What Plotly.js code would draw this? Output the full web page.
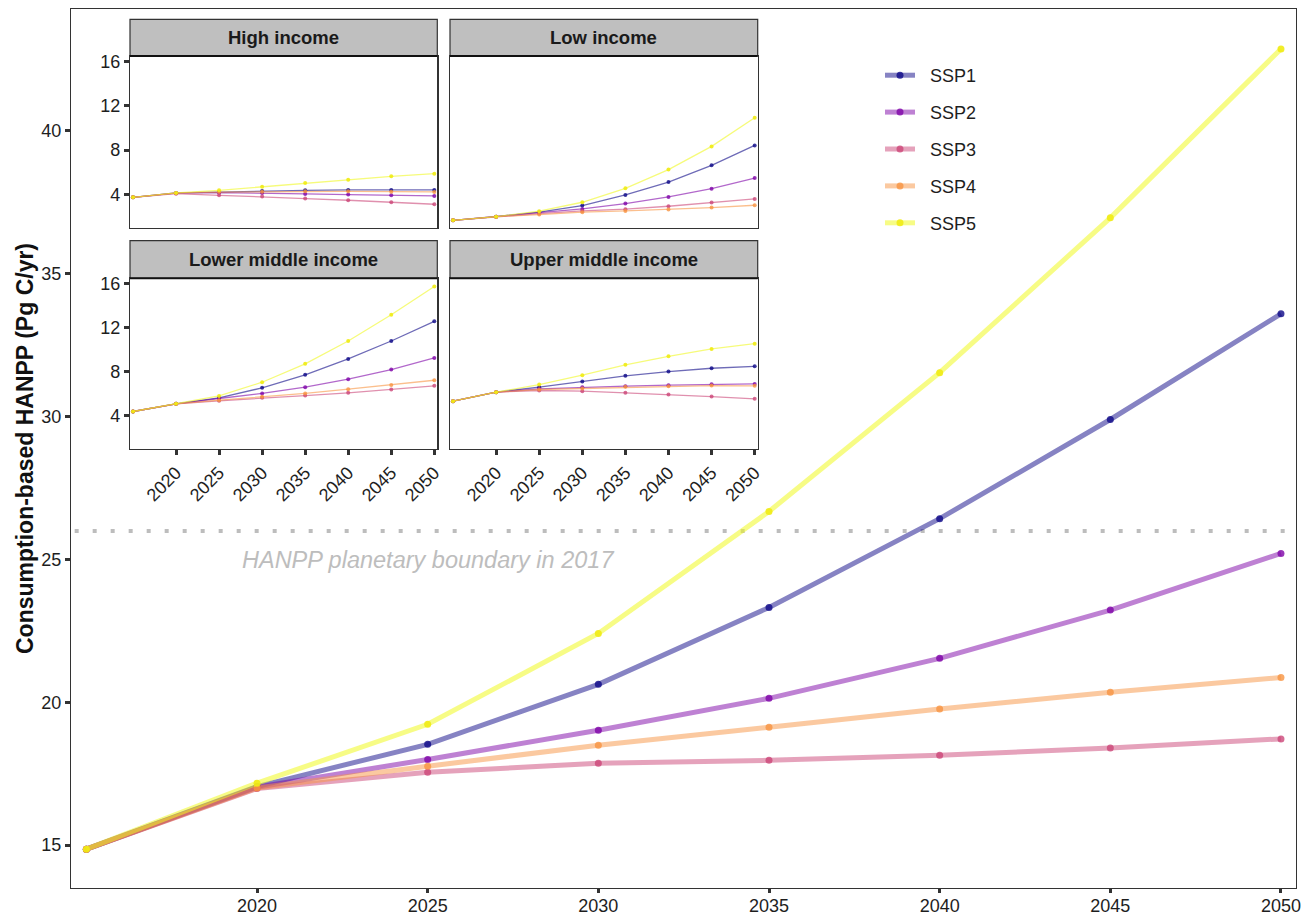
<!DOCTYPE html>
<html>
<head>
<meta charset="utf-8">
<script src="https://cdn.plot.ly/plotly-3.0.1.min.js"></script>
<style>html,body{margin:0;padding:0;background:#fff;}#chart{width:1303px;height:918px;}</style>
</head>
<body>
<div id="chart"></div>
<script>
const years = [2015, 2020, 2025, 2030, 2035, 2040, 2045, 2050];
const scenarios = ["SSP1", "SSP2", "SSP3", "SSP4", "SSP5"];
const lineColors = ["rgba(13,8,135,0.5)", "rgba(126,3,168,0.5)", "rgba(204,70,120,0.5)", "rgba(248,148,65,0.5)", "rgba(240,249,33,0.55)"];
const markerColors = ["rgba(13,8,135,0.8)", "rgba(126,3,168,0.8)", "rgba(204,70,120,0.8)", "rgba(248,148,65,0.8)", "rgba(240,235,20,0.9)"];

// Global consumption-based HANPP (Pg C/yr)
const globalSSP1 = [14.86, 17.05, 18.53, 20.63, 23.32, 26.43, 29.90, 33.60];
const globalSSP2 = [14.86, 17.03, 18.00, 19.02, 20.14, 21.54, 23.23, 25.21];
const globalSSP3 = [14.86, 16.98, 17.55, 17.87, 17.97, 18.15, 18.40, 18.72];
const globalSSP4 = [14.86, 17.00, 17.76, 18.50, 19.13, 19.77, 20.35, 20.87];
const globalSSP5 = [14.86, 17.17, 19.23, 22.41, 26.68, 31.54, 36.96, 42.87];

// Income groups
const highSSP1 = [3.73, 4.12, 4.20, 4.30, 4.36, 4.39, 4.39, 4.39];
const highSSP2 = [3.73, 4.10, 4.15, 4.12, 4.03, 3.97, 3.91, 3.85];
const highSSP3 = [3.73, 4.06, 3.91, 3.79, 3.61, 3.46, 3.28, 3.10];
const highSSP4 = [3.73, 4.12, 4.20, 4.24, 4.27, 4.27, 4.24, 4.21];
const highSSP5 = [3.73, 4.12, 4.36, 4.69, 5.02, 5.32, 5.62, 5.86];

const lowSSP1 = [1.65, 1.98, 2.38, 2.98, 3.94, 5.11, 6.62, 8.42];
const lowSSP2 = [1.65, 1.98, 2.32, 2.68, 3.16, 3.76, 4.51, 5.47];
const lowSSP3 = [1.65, 1.98, 2.26, 2.50, 2.65, 2.92, 3.25, 3.58];
const lowSSP4 = [1.65, 1.98, 2.17, 2.38, 2.50, 2.62, 2.80, 3.01];
const lowSSP5 = [1.65, 1.98, 2.47, 3.28, 4.54, 6.23, 8.33, 10.92];

const lmidSSP1 = [4.39, 5.09, 5.63, 6.54, 7.72, 9.17, 10.80, 12.59];
const lmidSSP2 = [4.39, 5.09, 5.57, 6.03, 6.60, 7.33, 8.20, 9.26];
const lmidSSP3 = [4.39, 5.09, 5.36, 5.63, 5.84, 6.09, 6.39, 6.72];
const lmidSSP4 = [4.39, 5.09, 5.42, 5.72, 6.03, 6.42, 6.81, 7.23];
const lmidSSP5 = [4.39, 5.09, 5.81, 7.05, 8.72, 10.80, 13.19, 15.76];

const umidSSP1 = [5.33, 6.15, 6.60, 7.11, 7.63, 8.02, 8.32, 8.50];
const umidSSP2 = [5.33, 6.15, 6.45, 6.60, 6.69, 6.78, 6.87, 6.90];
const umidSSP3 = [5.33, 6.15, 6.30, 6.24, 6.09, 5.93, 5.75, 5.54];
const umidSSP4 = [5.33, 6.15, 6.39, 6.48, 6.63, 6.69, 6.75, 6.72];
const umidSSP5 = [5.33, 6.15, 6.84, 7.69, 8.63, 9.41, 10.08, 10.56];

const panelNames = ["High income", "Low income", "Lower middle income", "Upper middle income"];
const boundary = 26;
const boundaryLabel = "HANPP planetary boundary in 2017";

const globalData = [globalSSP1, globalSSP2, globalSSP3, globalSSP4, globalSSP5];
const panelData = [
  [highSSP1, highSSP2, highSSP3, highSSP4, highSSP5],
  [lowSSP1, lowSSP2, lowSSP3, lowSSP4, lowSSP5],
  [lmidSSP1, lmidSSP2, lmidSSP3, lmidSSP4, lmidSSP5],
  [umidSSP1, umidSSP2, umidSSP3, umidSSP4, umidSSP5]
];

const FONT = "Liberation Sans, Arial, sans-serif";
const NB = "\u00a0\u00a0";
const traces = [];
for (let i = 0; i < 5; i++) {
  traces.push({
    x: years, y: globalData[i], type: "scatter", mode: "lines+markers",
    name: NB + scenarios[i], legendgroup: scenarios[i],
    line: {color: lineColors[i], width: 5},
    marker: {color: markerColors[i], size: 7},
    xaxis: "x", yaxis: "y"
  });
}
for (let p = 0; p < 4; p++) {
  for (let i = 0; i < 5; i++) {
    traces.push({
      x: years, y: panelData[p][i], type: "scatter", mode: "lines+markers",
      name: scenarios[i], showlegend: false,
      line: {color: lineColors[i].replace(/0\.5+\)$/, "0.6)"), width: 1.3},
      marker: {color: markerColors[i], size: 4},
      xaxis: "x" + (p + 2), yaxis: "y" + (p + 2)
    });
  }
}

const W = 1225, H = 879, L = 71, T = 9;
function px2x(px) { return (px - L) / W; }
function py2y(py) { return (T + H - py) / H; }

const panels = [
  {x0: 130, x1: 437.3, top: 56, bottom: 227.7, stripTop: 19.3},
  {x0: 450, x1: 757.7, top: 56, bottom: 227.7, stripTop: 19.3},
  {x0: 130, x1: 437.3, top: 278.3, bottom: 449, stripTop: 240.7},
  {x0: 450, x1: 757.7, top: 278.3, bottom: 449, stripTop: 240.7}
];

const TICKFONT = {family: FONT, size: 18, color: "#1e1e1e"};
const layout = {
  width: 1303, height: 918,
  margin: {l: L, r: 1303 - L - W, t: T, b: 918 - T - H},
  paper_bgcolor: "#fff", plot_bgcolor: "#fff",
  font: {family: FONT, size: 18, color: "#1e1e1e"},
  showlegend: true,
  legend: {x: px2x(880), y: py2y(57), xanchor: "left", yanchor: "top",
    font: {family: FONT, size: 18, color: "#1e1e1e"}, traceorder: "grouped", tracegroupgap: 10.5,
    bgcolor: "rgba(0,0,0,0)"},
  xaxis: {domain: [0, 1], range: [2014.55, 2050.44], tickvals: [2020, 2025, 2030, 2035, 2040, 2045, 2050],
    showgrid: false, zeroline: false, showline: true, mirror: true, linecolor: "#333", linewidth: 1.2,
    ticks: "outside", ticklen: 4, tickwidth: 3, tickcolor: "#333", tickfont: TICKFONT, ticklabelstandoff: -3},
  yaxis: {domain: [0, 1], range: [13.5, 44.27], tickvals: [15, 20, 25, 30, 35, 40],
    showgrid: false, zeroline: false, showline: true, mirror: true, linecolor: "#333", linewidth: 1.2,
    ticks: "outside", ticklen: 5, tickwidth: 3, tickcolor: "#333", tickfont: TICKFONT,
    title: {text: "<b>Consumption-based HANPP (Pg C/yr)</b>", font: {family: FONT, size: 23, color: "#111"}, standoff: 1}},
  shapes: [
    {type: "line", xref: "paper", yref: "y", x0: 0.003, x1: 1, y0: boundary, y1: boundary,
      line: {color: "#bdbdbd", width: 4, dash: "4px,14px"}, layer: "below"}
  ],
  annotations: [
    {xref: "x", yref: "y", x: 2025, y: 24.97, text: "<i>" + boundaryLabel + "</i>", showarrow: false,
      font: {family: FONT, size: 23.5, color: "#bdbdbd"}, xanchor: "center", yanchor: "middle"}
  ]
};

panels.forEach((pn, p) => {
  const n = p + 2;
  const isLeft = (p % 2 === 0), isBottom = (p >= 2);
  layout["xaxis" + n] = {
    domain: [px2x(pn.x0), px2x(pn.x1)], anchor: "y" + n, range: [2014.65, 2050.35],
    tickvals: [2020, 2025, 2030, 2035, 2040, 2045, 2050],
    showgrid: false, zeroline: false, showline: true, mirror: true, linecolor: "#333", linewidth: 1.2,
    ticks: isBottom ? "outside" : "", ticklen: 5, tickwidth: 3, tickcolor: "#333",
    showticklabels: isBottom, tickangle: -45, tickfont: TICKFONT
  };
  layout["yaxis" + n] = {
    domain: [py2y(pn.bottom), py2y(pn.top)], anchor: "x" + n, range: [0.98, 16.5],
    tickvals: [4, 8, 12, 16],
    showgrid: false, zeroline: false, showline: true, mirror: true, linecolor: "#333", linewidth: 1.2,
    ticks: isLeft ? "outside" : "", ticklen: 5, tickwidth: 3, tickcolor: "#333",
    showticklabels: isLeft, tickfont: TICKFONT
  };
  layout.shapes.push({type: "rect", xref: "paper", yref: "paper",
    x0: px2x(pn.x0), x1: px2x(pn.x1), y0: py2y(pn.top), y1: py2y(pn.stripTop),
    fillcolor: "#bfbfbf", line: {color: "#333", width: 1.2}});
  layout.shapes.push({type: "line", xref: "paper", yref: "paper",
    x0: px2x(pn.x0), x1: px2x(pn.x1), y0: py2y(pn.top), y1: py2y(pn.top),
    line: {color: "#111", width: 2}});
  layout.annotations.push({xref: "paper", yref: "paper",
    x: (px2x(pn.x0) + px2x(pn.x1)) / 2, y: (py2y(pn.top) + py2y(pn.stripTop)) / 2,
    text: "<b>" + panelNames[p] + "</b>", showarrow: false, xanchor: "center", yanchor: "middle",
    font: {family: FONT, size: 18.5, color: "#1a1a1a"}});
});

Plotly.newPlot("chart", traces, layout, {displayModeBar: false, staticPlot: true});
</script>
</body>
</html>
